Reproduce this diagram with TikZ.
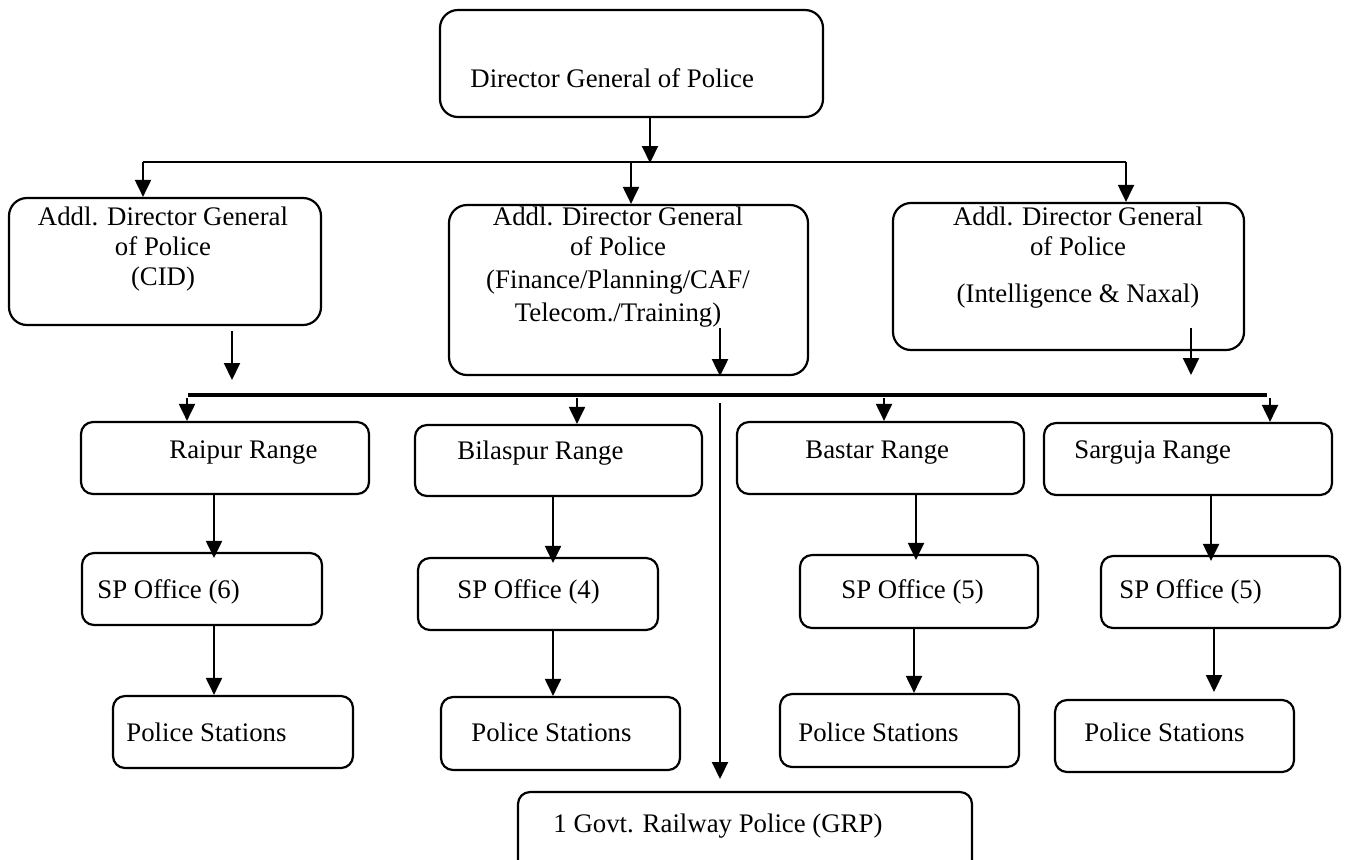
\documentclass[tikz,border=0pt]{standalone}
\usepackage{fontspec}
\setmainfont{Liberation Serif}
\usetikzlibrary{arrows.meta,fit}
\begin{document}
\begin{tikzpicture}[x=0.5pt,y=-0.5pt,
  box/.style={draw, line width=1.1pt, rounded corners=6pt, inner sep=0pt},
  bigbox/.style={box, rounded corners=9pt},
  txt/.style={inner sep=0pt, font=\fontsize{13.4}{15}\selectfont},
  arr/.style={line width=1pt, -{Triangle[length=8.5pt,width=8pt]}},
  ln/.style={line width=1pt},
  heavy/.style={line width=2.2pt}
]
\useasboundingbox (0,0) rectangle (1352,859);

% boxes
\node[bigbox, fit={(440,10) (823,117)}] (DG) {};
\node[bigbox, fit={(9,198) (321,325)}] (A1) {};
\node[bigbox, fit={(449,205) (808,375)}] (A2) {};
\node[bigbox, fit={(893,203) (1244,350)}] (A3) {};

\node[box, fit={(81,422) (369,494)}] (R1) {};
\node[box, fit={(415,425) (702,496)}] (R2) {};
\node[box, fit={(737,422) (1024,494)}] (R3) {};
\node[box, fit={(1044,423) (1332,495)}] (R4) {};

\node[box, fit={(82,553) (322,625)}] (S1) {};
\node[box, fit={(418,558) (658,630)}] (S2) {};
\node[box, fit={(800,555) (1038,628)}] (S3) {};
\node[box, fit={(1101,556) (1340,628)}] (S4) {};

\node[box, fit={(113,696) (353,768)}] (P1) {};
\node[box, fit={(441,697) (680,770)}] (P2) {};
\node[box, fit={(780,694) (1019,767)}] (P3) {};
\node[box, fit={(1055,700) (1294,772)}] (P4) {};

\begin{scope}
\clip (0,0) rectangle (1352,859);
\node[box, fit={(518,792) (972,890)}] (GRP) {};
\end{scope}

% texts
\node[txt, anchor=west] (DGt) at (470,78) {Director General of Police};
\node[txt, align=center] (A1t) at (163,249) {Addl. Director General\\of Police\\(CID)};
\node[txt, align=center] (A2t) at (618,267) {Addl. Director General\\of Police\\[1.5pt](Finance/Planning/CAF/\\[1.5pt]Telecom./Training)};
\node[txt, align=center] (A3t) at (1078,258) {Addl. Director General\\of Police\\[8.5pt](Intelligence \& Naxal)};

\node[txt, anchor=west] (R1t) at (169,453) {Raipur Range};
\node[txt, anchor=west] (R2t) at (457,453) {Bilaspur Range};
\node[txt, anchor=west] (R3t) at (805,453) {Bastar Range};
\node[txt, anchor=west] (R4t) at (1074,453) {Sarguja Range};

\node[txt, anchor=west] (S1t) at (97,592) {SP Office (6)};
\node[txt, anchor=west] (S2t) at (457,592) {SP Office (4)};
\node[txt, anchor=west] (S3t) at (841,592) {SP Office (5)};
\node[txt, anchor=west] (S4t) at (1119,592) {SP Office (5)};

\node[txt, anchor=west] (P1t) at (126,732) {Police Stations};
\node[txt, anchor=west] (P2t) at (471,732) {Police Stations};
\node[txt, anchor=west] (P3t) at (798,732) {Police Stations};
\node[txt, anchor=west] (P4t) at (1084,732) {Police Stations};

\node[txt, anchor=west] (GRPt) at (553,826) {1 Govt. Railway Police (GRP)};

% top distribution
\coordinate (dgx) at (650,0);
\coordinate (J) at (650,163);
\coordinate (HL) at (143,162);
\coordinate (HR) at (1126,162);
\coordinate (a2x) at (631,0);
\draw[arr] (DG.south -| dgx) -- (J);
\draw[ln] (HL) -- (HR);
\draw[arr] (HL) -- (A1.north -| HL);
\draw[arr] (J -| a2x) -- (A2.north -| a2x);
\draw[arr] (HR) -- (A3.north -| HR);

% arrows from ADG boxes toward thick line
\coordinate (f1s) at (232,331);
\coordinate (f1e) at (232,380);
\coordinate (f2s) at (720,328);
\coordinate (f3s) at (1191,328);
\coordinate (f3e) at (1191,375);
\draw[arr] (f1s) -- (f1e);
\draw[arr] (f2s) -- (A2.south -| f2s);
\draw[arr] (f3s) -- (f3e);

% thick line
\coordinate (TL) at (188,395);
\coordinate (TR) at (1267,395);
\draw[heavy] (TL) -- (TR);
\coordinate (t1) at (187,398);
\coordinate (t2) at (577,398);
\coordinate (t3) at (884,398);
\coordinate (t4) at (1270,398);
\draw[arr] (t1) -- (R1.north -| t1);
\draw[arr] (t2) -- (R2.north -| t2);
\draw[arr] (t3) -- (R3.north -| t3);
\draw[arr] (t4) -- (R4.north -| t4);

% GRP line
\coordinate (g0) at (720,403);
\coordinate (g1) at (720,779);
\draw[arr] (g0) -- (g1);

% range -> SP -> PS
\coordinate (c1) at (214,0);
\coordinate (c2) at (553,0);
\coordinate (c3) at (916,0);
\coordinate (c4) at (1211,0);
\coordinate (d3) at (914,0);
\coordinate (d4) at (1214,0);
\draw[arr, shorten >=-3pt] (R1.south -| c1) -- (S1.north -| c1);
\draw[arr, shorten >=-3pt] (R2.south -| c2) -- (S2.north -| c2);
\draw[arr, shorten >=-3pt] (R3.south -| c3) -- (S3.north -| c3);
\draw[arr, shorten >=-3pt] (R4.south -| c4) -- (S4.north -| c4);

\coordinate (p4e) at (1214,692);
\draw[arr] (S1.south -| c1) -- (P1.north -| c1);
\draw[arr] (S2.south -| c2) -- (P2.north -| c2);
\draw[arr] (S3.south -| d3) -- (P3.north -| d3);
\draw[arr] (S4.south -| d4) -- (p4e);
\end{tikzpicture}
\end{document}
